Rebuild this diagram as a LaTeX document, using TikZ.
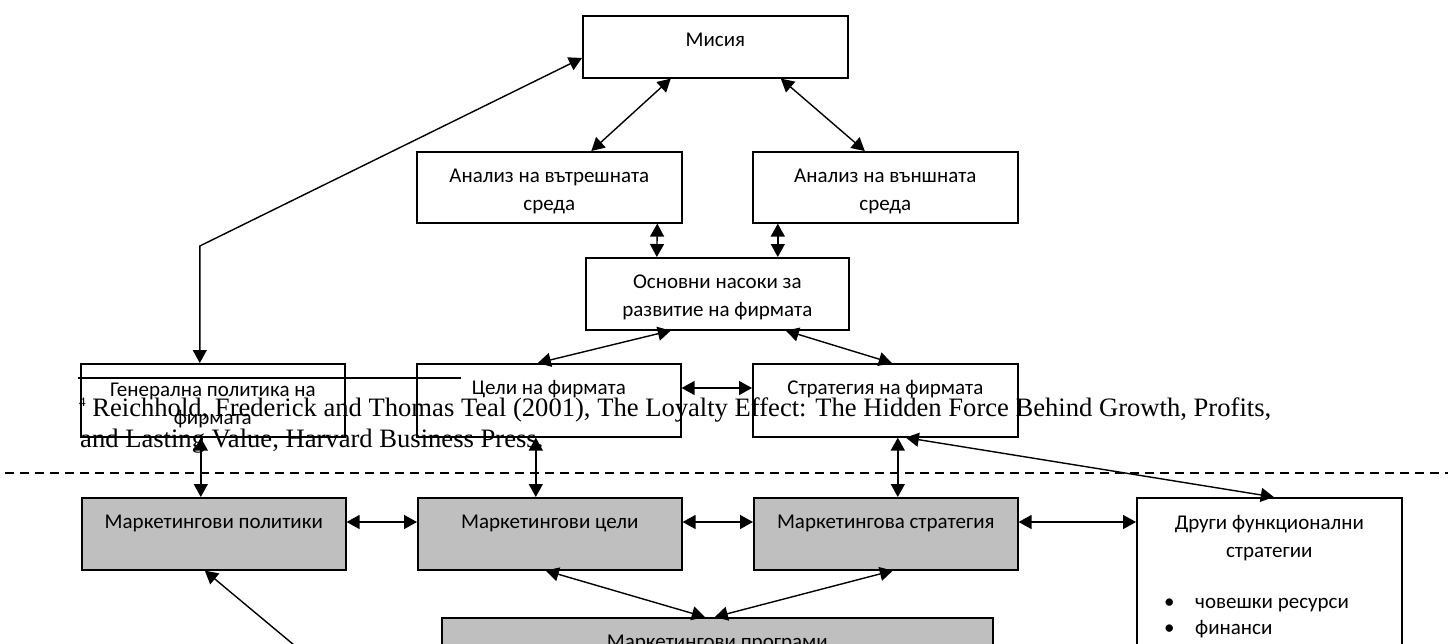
\documentclass[tikz,border=0pt]{standalone}
\usepackage{fontspec}
\setmainfont{Carlito}
\newfontfamily\refserif{Liberation Serif}
\usetikzlibrary{arrows.meta}

\tikzset{
  box/.style={draw, line width=1.6pt, fill=white, inner sep=0pt, anchor=north west,
              minimum width=265pt, minimum height=72pt},
  mbox/.style={box, fill=black!25},
  txt/.style={font=\fontsize{21}{28}\selectfont, align=center, anchor=base, inner sep=0pt},
  link/.style={line width=1.4pt, {Triangle[length=13pt,width=14pt]}-{Triangle[length=13pt,width=14pt]}},
  oneway/.style={line width=1.4pt, -{Triangle[length=13pt,width=14pt]}},
  divider/.style={line width=1.6pt, dash pattern=on 9pt off 6pt},
  note/.style={font=\refserif\fontsize{26.6}{31.5}\selectfont, anchor=base west, inner sep=0pt},
}

\begin{document}
\begin{tikzpicture}[x=1pt, y=-1pt]
\useasboundingbox (0,0) rectangle (1448,643);
\clip (0,0) rectangle (1448,643);

% corporate level
\node[box, minimum height=62pt] (mis) at (582,15) {};
\node[box, minimum height=71pt] (inner) at (416,151) {};
\node[box, minimum height=71pt] (outer) at (752,151) {};
\node[box, minimum width=263pt] (dirs) at (585,257) {};
\node[box, minimum width=264pt, minimum height=73pt] (gen) at (80,363) {};
\node[box, minimum width=264pt, minimum height=73pt] (goals) at (416,363) {};
\node[box, minimum height=73pt] (strat) at (752,363) {};

% marketing level
\node[mbox, minimum width=264pt] (mpol) at (81,497) {};
\node[mbox, minimum width=264pt] (mgoal) at (417,497) {};
\node[mbox, minimum width=264pt] (mstrat) at (753,497) {};
\node[box, minimum height=200pt] (other) at (1136,497) {};
\node[mbox, minimum width=551pt, minimum height=80pt] (prog) at (441,617) {};

% box captions (the base of a two-line caption is its second line)
\node[txt] (mist) at ([yshift=-31pt]mis.north) {Мисия};
\node[txt] (innert) at ([yshift=-59pt]inner.north) {Анализ на вътрешната\\среда};
\node[txt] (outert) at ([yshift=-59pt]outer.north) {Анализ на външната\\среда};
\node[txt] (dirst) at ([yshift=-59pt]dirs.north) {Основни насоки за\\развитие на фирмата};
\node[txt] (gent) at ([yshift=-61pt]gen.north) {Генерална политика на\\фирмата};
\node[txt] (goalst) at ([yshift=-31pt]goals.north) {Цели на фирмата};
\node[txt] (stratt) at ([yshift=-31pt]strat.north) {Стратегия на фирмата};
\node[txt] (mpolt) at ([yshift=-31pt]mpol.north) {Маркетингови политики};
\node[txt] (mgoalt) at ([yshift=-31pt]mgoal.north) {Маркетингови цели};
\node[txt] (mstratt) at ([yshift=-31pt]mstrat.north) {Маркетингова стратегия};
\node[txt] (othert) at ([yshift=-60pt]other.north) {Други функционални\\стратегии};
\node[txt, anchor=base west, align=left, font=\fontsize{21}{26}\selectfont] (otherl)
  at (1164,634) {\makebox[31pt][l]{•}човешки ресурси\\\makebox[31pt][l]{•}финанси};
\node[txt] (progt) at ([yshift=-31pt]prog.north) {Маркетингови програми};

% connectors between the corporate boxes
\draw[link] ([xshift=-44.5pt]mis.south) -- ([xshift=42pt]inner.north);
\draw[link] ([xshift=65.5pt]mis.south) -- ([xshift=-20.5pt]outer.north);
\draw[link] ([xshift=108pt]inner.south) -- ([xshift=-60.5pt]dirs.north);
\draw[link] ([xshift=-107.5pt]outer.south) -- ([xshift=60.5pt]dirs.north);
\draw[link] ([xshift=-46.5pt]dirs.south) -- ([xshift=-11pt]goals.north);
\draw[link] ([xshift=68.5pt]dirs.south) -- ([xshift=6.5pt]strat.north);
\draw[link] ([yshift=-25pt]goals.north east) -- ([yshift=-25pt]strat.north west);
\draw[link] ([xshift=-13pt]gen.north) -- ++(0,-117) -- ([yshift=-43pt]mis.north west);

% links across the two levels
\draw[link] ([xshift=-12pt]gen.south) -- ([xshift=-13pt]mpol.north);
\draw[link] ([xshift=-13pt]goals.south) -- ([xshift=-14pt]mgoal.north);
\draw[link] ([xshift=12.5pt]strat.south) -- ([xshift=12pt]mstrat.north);
\draw[link] ([xshift=20.5pt]strat.south) -- ([xshift=4.5pt]other.north);

% connectors between the marketing boxes
\draw[link] ([yshift=-25pt]mpol.north east) -- ([yshift=-25pt]mgoal.north west);
\draw[link] ([yshift=-25pt]mgoal.north east) -- ([yshift=-25pt]mstrat.north west);
\draw[link] ([yshift=-25pt]mstrat.north east) -- ([yshift=-25pt]other.north west);
\draw[link] ([xshift=-4pt]mgoal.south) -- ([xshift=-12.5pt]prog.north);
\draw[link] ([xshift=7pt]mstrat.south) -- ([xshift=-2.5pt]prog.north);
\coordinate (low) at (312,660);
\draw[oneway] (low) -- ([xshift=-9pt]mpol.south);

% level divider
\coordinate (dl) at (5,473);
\coordinate (dr) at (1448,473);
\draw[divider] (dl) -- (dr);

% footnote
\draw[line width=2.4pt] (78,378) -- (461,378);
\node[note] (fn1) at (79,416) {\raisebox{10pt}{\fontsize{13}{13}\selectfont 4} Reichhold, Frederick and Thomas Teal (2001), The Loyalty Effect: The Hidden Force Behind Growth, Profits,};
\node[note] (fn2) at (80,447) {and Lasting Value, Harvard Business Press.};
\end{tikzpicture}
\end{document}
